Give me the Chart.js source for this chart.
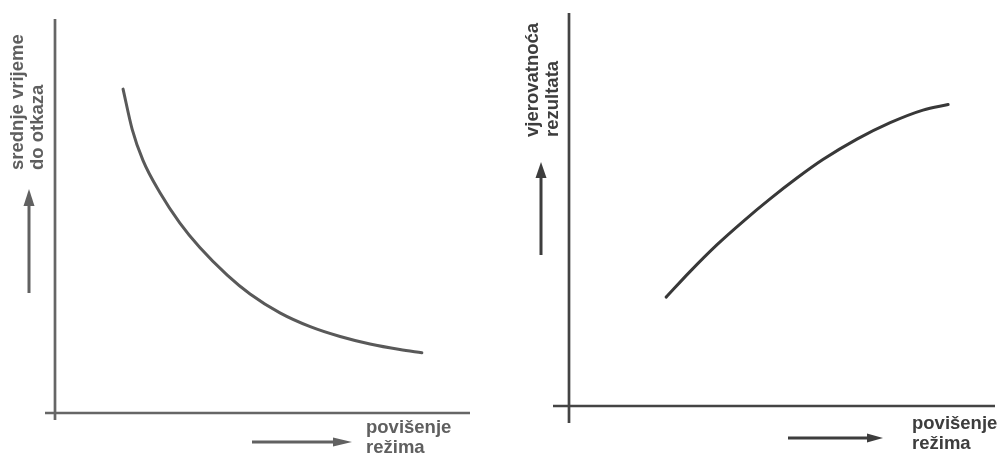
<!DOCTYPE html>
<html>
<head>
<meta charset="utf-8">
<script src="https://cdn.jsdelivr.net/npm/chart.js@4.4.1/dist/chart.umd.min.js"></script>
<style>
  html, body { margin: 0; padding: 0; background: #fff; }
  #wrap {
    position: relative; width: 999px; height: 457px; overflow: hidden;
    font-family: "Liberation Sans", Arial, sans-serif; font-weight: bold;
    font-size: 18.5px; line-height: 20px;
  }
  #wrap canvas { position: absolute; top: 0; }
  .lbl { position: absolute; white-space: nowrap; }
  .rot { transform: rotate(-90deg); transform-origin: 0 0; }
  .left  { color: #5f5f5f; }
  .right { color: #3d3d3d; }
</style>
</head>
<body>
<div id="wrap">
  <canvas id="cLeft" width="499" height="457" style="left:0"></canvas>
  <canvas id="cRight" width="499" height="457" style="left:500px"></canvas>

  <div class="lbl rot left" style="left:7px; top:170px">srednje vrijeme<br>do otkaza</div>
  <div class="lbl left" style="left:366px; top:417px">povišenje<br>režima</div>

  <div class="lbl rot right" style="left:522px; top:137px">vjerovatnoća<br>rezultata</div>
  <div class="lbl right" style="left:912px; top:413px">povišenje<br>režima</div>
</div>

<script>
// Curves, in arbitrary 0–100 units (no ticks in the source).
const leftX  = [16.4, 18.6, 21.2, 25.3, 30.1, 34.9, 41.5, 47.0, 54.2, 61.5, 68.7, 75.9, 83.1, 88.4];
const leftY  = [82.2, 72.0, 64.1, 55.9, 48.2, 42.0, 35.0, 30.2, 25.4, 21.9, 19.4, 17.5, 16.1, 15.3];
const rightX = [22.8, 28.4, 34.7, 40.9, 47.2, 53.5, 59.6, 67.6, 75.4, 83.1, 89.0];
const rightY = [27.7, 34.2, 41.0, 47.0, 52.7, 58.0, 62.7, 67.9, 72.1, 75.3, 76.7];

// Panel geometry (canvas pixels): chart area padding, axis overhangs, hint arrows.
const panels = {
  left: {
    pad: { left: 55, top: 19, right: 29, bottom: 44 },
    axis: "#666666", curve: "#595959", arrow: "#616161",
    overBottom: 7, overLeft: 10,
    yArrow: { x: 29, from: 293, to: 189, head: 17, half: 5.5 },
    xArrow: { y: 442, from: 252, to: 352, head: 19, half: 4.5 },
  },
  right: {
    pad: { left: 69, top: 13, right: 4, bottom: 51 },
    axis: "#444444", curve: "#383838", arrow: "#3d3d3d",
    overBottom: 17, overLeft: 16,
    yArrow: { x: 41, from: 255, to: 162, head: 16, half: 5.5 },
    xArrow: { y: 438, from: 288, to: 383, head: 16, half: 4.5 },
  },
};

// Draws the two axes (crossing with a small overhang) and the direction arrows.
const decorPlugin = {
  id: "decor",
  beforeDatasetsDraw(chart, args, p) {
    const { ctx, chartArea: a } = chart;
    ctx.save();
    ctx.strokeStyle = p.axis;
    ctx.lineWidth = 2.7;
    ctx.beginPath();
    ctx.moveTo(a.left, a.top);
    ctx.lineTo(a.left, a.bottom + p.overBottom);
    ctx.moveTo(a.left - p.overLeft, a.bottom);
    ctx.lineTo(a.right, a.bottom);
    ctx.stroke();

    ctx.strokeStyle = p.arrow;
    ctx.fillStyle = p.arrow;
    ctx.lineWidth = 3;
    const ya = p.yArrow;
    ctx.beginPath();
    ctx.moveTo(ya.x, ya.from);
    ctx.lineTo(ya.x, ya.to + ya.head - 1);
    ctx.stroke();
    ctx.beginPath();
    ctx.moveTo(ya.x, ya.to);
    ctx.lineTo(ya.x - ya.half, ya.to + ya.head);
    ctx.lineTo(ya.x + ya.half, ya.to + ya.head);
    ctx.closePath();
    ctx.fill();

    const xa = p.xArrow;
    ctx.beginPath();
    ctx.moveTo(xa.from, xa.y);
    ctx.lineTo(xa.to - xa.head + 1, xa.y);
    ctx.stroke();
    ctx.beginPath();
    ctx.moveTo(xa.to, xa.y);
    ctx.lineTo(xa.to - xa.head, xa.y - xa.half);
    ctx.lineTo(xa.to - xa.head, xa.y + xa.half);
    ctx.closePath();
    ctx.fill();
    ctx.restore();
  },
};

function makeChart(id, xs, ys, p) {
  return new Chart(document.getElementById(id), {
    type: "scatter",
    data: {
      datasets: [{
        data: xs.map((x, i) => ({ x, y: ys[i] })),
        showLine: true,
        borderColor: p.curve,
        borderWidth: 3,
        borderCapStyle: "round",
        borderJoinStyle: "round",
        pointRadius: 0,
        cubicInterpolationMode: "monotone",
        fill: false,
      }],
    },
    options: {
      responsive: false,
      animation: false,
      layout: { padding: p.pad },
      plugins: { legend: { display: false }, tooltip: { enabled: false }, decor: p },
      scales: {
        x: { type: "linear", display: false, min: 0, max: 100 },
        y: { type: "linear", display: false, min: 0, max: 100 },
      },
    },
    plugins: [decorPlugin],
  });
}

makeChart("cLeft", leftX, leftY, panels.left);
makeChart("cRight", rightX, rightY, panels.right);
</script>
</body>
</html>
